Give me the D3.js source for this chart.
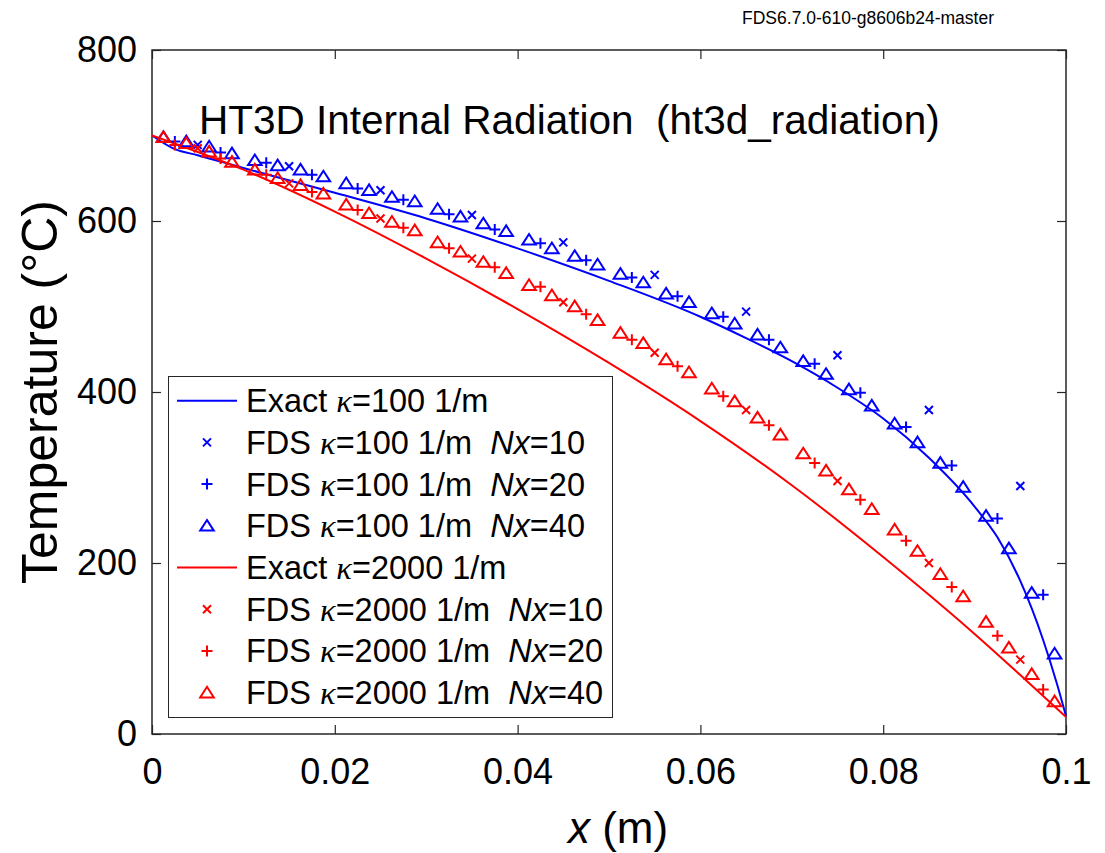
<!DOCTYPE html>
<html>
<head>
<meta charset="utf-8">
<script src="https://cdn.jsdelivr.net/npm/d3@7"></script>
<style>
body { margin: 0; background: #fff; }
text { font-family: "Liberation Sans", Arial, Helvetica, sans-serif; fill: #000; }
</style>
</head>
<body>
<svg id="chart" width="1105" height="853"></svg>
<script>
var width = 1105,
    height = 853;

// Exact solutions
var xExact100 = [0, 0.0025, 0.005, 0.01, 0.02, 0.03, 0.04, 0.05, 0.06, 0.065, 0.07, 0.075, 0.08, 0.085, 0.09, 0.0925, 0.095, 0.0975, 0.099, 0.1];
var tExact100 = [700, 684, 677, 662, 633, 603, 568, 530, 488, 463, 436, 405, 369, 323, 266, 230, 179, 110, 59, 21];
var xExact2000 = [0, 0.01, 0.02, 0.03, 0.04, 0.05, 0.06, 0.07, 0.08, 0.09, 0.095, 0.1];
var tExact2000 = [700, 660, 611, 556, 497, 434, 366, 291, 207, 117, 69, 20];

// FDS cell centres
var xNx10 = [0.005, 0.015, 0.025, 0.035, 0.045, 0.055, 0.065, 0.075, 0.085, 0.095];
var xNx20 = [0.0025, 0.0075, 0.0125, 0.0175, 0.0225, 0.0275, 0.0325, 0.0375, 0.0425, 0.0475,
             0.0525, 0.0575, 0.0625, 0.0675, 0.0725, 0.0775, 0.0825, 0.0875, 0.0925, 0.0975];
var xNx40 = [0.00125, 0.00375, 0.00625, 0.00875, 0.01125, 0.01375, 0.01625, 0.01875, 0.02125, 0.02375,
             0.02625, 0.02875, 0.03125, 0.03375, 0.03625, 0.03875, 0.04125, 0.04375, 0.04625, 0.04875,
             0.05125, 0.05375, 0.05625, 0.05875, 0.06125, 0.06375, 0.06625, 0.06875, 0.07125, 0.07375,
             0.07625, 0.07875, 0.08125, 0.08375, 0.08625, 0.08875, 0.09125, 0.09375, 0.09625, 0.09875];

// FDS results, kappa = 100 1/m
var t100Nx10 = [689, 664, 636, 607, 575, 537, 494, 443, 379, 290];
var t100Nx20 = [693, 680, 668, 654, 638, 625, 608, 590, 574, 554,
                534, 512, 488, 461, 433, 399, 359, 314, 252, 163];
var t100Nx40 = [698, 693, 687, 679, 671, 665, 660, 652, 644, 636,
                628, 623, 614, 605, 597, 588, 578, 568, 559, 549,
                538, 528, 515, 505, 492, 480, 467, 452, 436, 421,
                403, 384, 363, 341, 317, 289, 255, 217, 165, 94];

// FDS results, kappa = 2000 1/m
var t2000Nx10 = [685, 644, 603, 556, 505, 446, 379, 296, 200, 87];
var t2000Nx20 = [689, 673, 654, 634, 613, 592, 568, 546, 523, 491,
                 461, 430, 395, 361, 317, 274, 226, 172, 115, 52];
var t2000Nx40 = [698, 691, 681, 669, 660, 650, 642, 632, 619, 609,
                 599, 589, 575, 564, 552, 539, 525, 513, 500, 484,
                 469, 457, 438, 423, 404, 389, 370, 350, 328, 308,
                 286, 263, 239, 214, 187, 161, 131, 101, 70, 38];

var xTicks = [0, 0.02, 0.04, 0.06, 0.08, 0.1];
var xTickLabels = ["0", "0.02", "0.04", "0.06", "0.08", "0.1"];
var yTicks = [0, 200, 400, 600, 800];

var kappas = ["100", "2000"];
var nxLabels = ["10", "20", "40"];

var blue = "#0000ff",
    red = "#ff0000";

var svg = d3.select("#chart");

var x = d3.scaleLinear().domain([0, 0.1]).range([152, 1066]);
var y = d3.scaleLinear().domain([0, 800]).range([734, 50]);

// Axes: ticks point inward on all four sides
svg.append("g")
    .attr("transform", "translate(0,734)")
    .call(d3.axisBottom(x).tickValues(xTicks).tickSizeInner(-9).tickSizeOuter(0).tickPadding(24)
        .tickFormat(function (d, i) { return xTickLabels[i]; }))
    .call(styleAxis);
svg.append("g")
    .attr("transform", "translate(152,0)")
    .call(d3.axisLeft(y).tickValues(yTicks).tickSizeInner(-9).tickSizeOuter(0).tickPadding(15))
    .call(styleAxis);
svg.append("g")
    .attr("transform", "translate(0,50)")
    .call(d3.axisTop(x).tickValues(xTicks).tickSizeInner(-9).tickSizeOuter(0).tickFormat(""))
    .call(styleAxis);
svg.append("g")
    .attr("transform", "translate(1066,0)")
    .call(d3.axisRight(y).tickValues(yTicks).tickSizeInner(-9).tickSizeOuter(0).tickFormat(""))
    .call(styleAxis);

function styleAxis(g) {
    g.select(".domain").remove();
    g.selectAll("line").attr("stroke", "#262626").attr("stroke-width", 1.2);
    g.selectAll("text").style("font-size", "36px").attr("fill", "#000");
}

// Box
svg.append("rect")
    .attr("x", 152)
    .attr("y", 50)
    .attr("width", 1066 - 152)
    .attr("height", 734 - 50)
    .attr("fill", "none")
    .attr("stroke", "#262626")
    .attr("stroke-width", 1.5);

// Exact curves
var line = d3.line()
    .x(function (d) { return x(d[0]); })
    .y(function (d) { return y(d[1]); })
    .curve(d3.curveMonotoneX);

svg.append("path")
    .datum(d3.zip(xExact100, tExact100))
    .attr("d", line)
    .attr("fill", "none")
    .attr("stroke", blue)
    .attr("stroke-width", 2);
svg.append("path")
    .datum(d3.zip(xExact2000, tExact2000))
    .attr("d", line)
    .attr("fill", "none")
    .attr("stroke", red)
    .attr("stroke-width", 2);

function markerPath(kind) {
    if (kind == "x") return "M-4,-4L4,4M-4,4L4,-4";
    if (kind == "+") return "M-5.5,0L5.5,0M0,-5.5L0,5.5";
    return "M-6.8,4.8L6.8,4.8L0,-5.8Z";
}

var series = [
    { xs: xNx10, ts: t100Nx10, color: blue, kind: "x" },
    { xs: xNx20, ts: t100Nx20, color: blue, kind: "+" },
    { xs: xNx40, ts: t100Nx40, color: blue, kind: "^" },
    { xs: xNx10, ts: t2000Nx10, color: red, kind: "x" },
    { xs: xNx20, ts: t2000Nx20, color: red, kind: "+" },
    { xs: xNx40, ts: t2000Nx40, color: red, kind: "^" }
];

series.forEach(function (s) {
    svg.append("g")
        .selectAll("path")
        .data(d3.zip(s.xs, s.ts))
        .join("path")
        .attr("transform", function (d) {
            return "translate(" + x(d[0]) + "," + y(d[1]) + ")";
        })
        .attr("d", markerPath(s.kind))
        .attr("fill", "none")
        .attr("stroke", s.color)
        .attr("stroke-width", 2);
});

// Title and version stamp
svg.append("text")
    .attr("x", 199)
    .attr("y", 134)
    .style("font-size", "40.5px")
    .style("white-space", "pre")
    .text("HT3D Internal Radiation  (ht3d_radiation)");

svg.append("text")
    .attr("x", 994)
    .attr("y", 24)
    .attr("text-anchor", "end")
    .style("font-size", "17.5px")
    .text("FDS6.7.0-610-g8606b24-master");

// Axis labels
var xl = svg.append("text")
    .attr("x", 618)
    .attr("y", 843)
    .attr("text-anchor", "middle")
    .style("font-size", "44px")
    .style("white-space", "pre");
xl.append("tspan").style("font-style", "italic").text("x");
xl.append("tspan").text(" (m)");

svg.append("text")
    .attr("transform", "translate(57,392) rotate(-90)")
    .attr("text-anchor", "middle")
    .style("font-size", "50px")
    .text("Temperature (\u00B0C)");

// Legend
var legend = svg.append("g");
legend.append("rect")
    .attr("x", 168.5)
    .attr("y", 376.5)
    .attr("width", 444)
    .attr("height", 341)
    .attr("fill", "#fff")
    .attr("stroke", "#262626")
    .attr("stroke-width", 1);

var legendRows = [];
kappas.forEach(function (k, ki) {
    var c = ki == 0 ? blue : red;
    legendRows.push({ type: "line", color: c, kappa: k });
    nxLabels.forEach(function (n, ni) {
        legendRows.push({ type: ["x", "+", "^"][ni], color: c, kappa: k, nx: n });
    });
});

legendRows.forEach(function (r, i) {
    var cy = 400.7 + i * 41.7;
    if (r.type == "line") {
        legend.append("line")
            .attr("x1", 177).attr("x2", 237)
            .attr("y1", cy).attr("y2", cy)
            .attr("stroke", r.color)
            .attr("stroke-width", 2);
    } else {
        legend.append("path")
            .attr("transform", "translate(207," + cy + ")")
            .attr("d", markerPath(r.type))
            .attr("fill", "none")
            .attr("stroke", r.color)
            .attr("stroke-width", 2);
    }
    var t = legend.append("text")
        .attr("x", 246)
        .attr("y", cy + 11.5)
        .style("font-size", "32.5px")
        .style("white-space", "pre");
    t.append("tspan").text(r.type == "line" ? "Exact " : "FDS ");
    t.append("tspan")
        .style("font-family", "'Liberation Serif', 'DejaVu Serif', serif")
        .style("font-style", "italic")
        .text("\u03BA");
    t.append("tspan").text("=" + r.kappa + " 1/m" + (r.type == "line" ? "" : "  "));
    if (r.type != "line") {
        t.append("tspan").style("font-style", "italic").text("Nx");
        t.append("tspan").text("=" + r.nx);
    }
});
</script>
</body>
</html>
